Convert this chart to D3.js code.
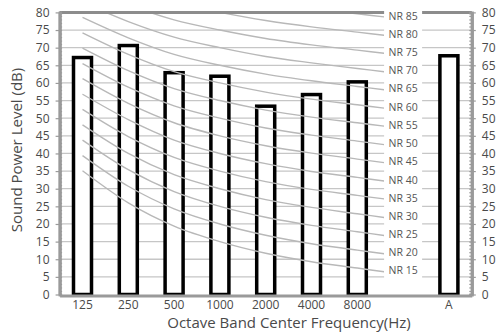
<!DOCTYPE html>
<html>
<head>
<meta charset="utf-8">
<script src="https://cdn.jsdelivr.net/npm/d3@7"></script>
<style>
  body { margin: 0; background: #fff; }
  text { font-family: "Open Sans", sans-serif; }
</style>
</head>
<body>
<div id="chart"></div>
<script>
// Octave bands and measured sound power levels (dB)
var bands = ["125", "250", "500", "1000", "2000", "4000", "8000"];
var bandLevels = [67.2, 70.6, 62.9, 61.9, 53.4, 56.7, 60.3];

// Overall A-weighted level
var totalBand = "A";
var totalLevel = 67.7;

// Y tick values
var yTickValues = [0, 5, 10, 15, 20, 25, 30, 35, 40, 45, 50, 55, 60, 65, 70, 75, 80];

// Noise Rating curves, values at 125 ... 8000 Hz
var nrNames = ["NR 15", "NR 20", "NR 25", "NR 30", "NR 35", "NR 40", "NR 45", "NR 50",
               "NR 55", "NR 60", "NR 65", "NR 70", "NR 75", "NR 80", "NR 85"];
var nr15 = [35.1, 26.0, 19.4, 15.0, 11.7, 9.3, 7.5];
var nr20 = [39.4, 30.7, 24.3, 20.0, 16.8, 14.4, 12.6];
var nr25 = [43.8, 35.4, 29.2, 25.0, 21.9, 19.6, 17.8];
var nr30 = [48.1, 40.0, 34.0, 30.0, 26.9, 24.7, 22.9];
var nr35 = [52.5, 44.8, 38.9, 35.0, 32.0, 29.8, 28.1];
var nr40 = [56.8, 49.6, 43.8, 40.0, 37.1, 34.9, 33.2];
var nr45 = [61.2, 54.2, 48.7, 45.0, 42.2, 40.1, 38.4];
var nr50 = [65.5, 58.8, 53.5, 50.0, 47.2, 45.2, 43.5];
var nr55 = [69.9, 63.5, 58.4, 55.0, 52.3, 50.3, 48.7];
var nr60 = [74.2, 68.1, 63.2, 60.0, 57.4, 55.4, 53.8];
var nr65 = [78.6, 72.8, 68.1, 65.0, 62.5, 60.6, 59.0];
var nr70 = [82.9, 77.4, 73.0, 70.0, 67.5, 65.7, 64.1];
var nr75 = [87.3, 82.1, 77.9, 75.0, 72.6, 70.8, 69.3];
var nr80 = [91.6, 86.7, 82.7, 80.0, 77.7, 75.9, 74.4];
var nr85 = [96.0, 91.4, 87.6, 85.0, 82.8, 81.1, 79.6];
var nrCurves = [nr15, nr20, nr25, nr30, nr35, nr40, nr45, nr50,
                nr55, nr60, nr65, nr70, nr75, nr80, nr85];

// Define svg dimensions
var svgWidth = 496;
var svgHeight = 333;

var chartMargin = { top: 12.4, right: 24.2, bottom: 38.5, left: 59.6 };
var chartWidth = svgWidth - chartMargin.left - chartMargin.right;
var chartHeight = svgHeight - chartMargin.top - chartMargin.bottom;

var svg = d3.select("#chart")
  .append("svg")
  .attr("width", svgWidth)
  .attr("height", svgHeight);

var chartGroup = svg.append("g")
  .attr("transform", `translate(${chartMargin.left}, ${chartMargin.top})`);

// Scales: one empty slot between 8000 and A holds the NR labels
var xDomain = bands.concat(["NR", totalBand]);
var xScale = d3.scaleBand()
  .domain(xDomain)
  .range([0, chartWidth]);
var bw = xScale.bandwidth();

var yScale = d3.scaleLinear()
  .domain([0, 80])
  .range([chartHeight, 0]);

var axisGray = "#9a9a9a";

// Horizontal gridlines
chartGroup.append("g")
  .selectAll("line")
  .data(yTickValues.filter(d => d > 0 && d < 80))
  .enter()
  .append("line")
  .attr("x1", 0)
  .attr("x2", chartWidth)
  .attr("y1", d => yScale(d))
  .attr("y2", d => yScale(d))
  .attr("stroke", "#c6c6c6")
  .attr("stroke-width", 1.3);

// Bars
var barData = bands.map((b, i) => ({ band: b, level: bandLevels[i] }));
barData.push({ band: totalBand, level: totalLevel });
var barW = 18;

chartGroup.append("g")
  .selectAll("rect")
  .data(barData)
  .enter()
  .append("rect")
  .attr("x", d => xScale(d.band) + bw / 2 - barW / 2)
  .attr("y", d => yScale(d.level))
  .attr("width", barW)
  .attr("height", d => chartHeight - yScale(d.level))
  .attr("fill", "#fff")
  .attr("stroke", "#000")
  .attr("stroke-width", 3.5);

// NR curves, clipped to plot area
var labelCenter = xScale("NR") + bw / 2;
var labelHalf = 19;
var curveEndX = labelCenter - labelHalf;

svg.append("defs").append("clipPath")
  .attr("id", "plotClip")
  .append("rect")
  .attr("x", 0)
  .attr("y", 0)
  .attr("width", curveEndX)
  .attr("height", chartHeight);

var lineGen = d3.line()
  .x(d => d[0])
  .y(d => yScale(d[1]))
  .curve(d3.curveMonotoneX);

// Each curve continues along its last slope up to its label
var curvePts = nrCurves.map(function(vals) {
  var pts = vals.map((v, i) => [xScale(bands[i]) + bw / 2, v]);
  var a = pts[pts.length - 2];
  var b = pts[pts.length - 1];
  var slope = (b[1] - a[1]) / (b[0] - a[0]);
  pts.push([curveEndX, b[1] + slope * (curveEndX - b[0])]);
  return pts;
});

chartGroup.append("g")
  .attr("clip-path", "url(#plotClip)")
  .selectAll("path")
  .data(curvePts)
  .enter()
  .append("path")
  .attr("d", d => lineGen(d))
  .attr("fill", "none")
  .attr("stroke", "#b8b8b8")
  .attr("stroke-width", 1.4);

// Top border line at 80
chartGroup.append("line")
  .attr("x1", 0)
  .attr("x2", chartWidth)
  .attr("y1", yScale(80))
  .attr("y2", yScale(80))
  .attr("stroke", "#8c8c8c")
  .attr("stroke-width", 3);

// White column behind NR labels
chartGroup.append("rect")
  .attr("x", labelCenter - labelHalf)
  .attr("y", yScale(80) - 3)
  .attr("width", labelHalf * 2)
  .attr("height", yScale(2.5) - yScale(80) + 3)
  .attr("fill", "#fff");

// NR labels
chartGroup.append("g")
  .selectAll("text")
  .data(curvePts)
  .enter()
  .append("text")
  .attr("x", labelCenter)
  .attr("y", d => Math.max(yScale(d[d.length - 1][1]), 2) - 1)
  .attr("dy", "0.35em")
  .attr("text-anchor", "middle")
  .attr("font-size", "10.5px")
  .attr("fill", "#555")
  .text((d, i) => nrNames[i]);

// Axes
function styleAxis(g) {
  g.select(".domain").attr("stroke", axisGray).attr("stroke-width", 3);
  g.selectAll(".tick line").attr("stroke", axisGray).attr("stroke-width", 1.2);
  g.selectAll(".tick text").attr("fill", "#4a4a4a").attr("font-size", "12px");
}

// minor ticks (inward)
chartGroup.append("g")
  .call(d3.axisLeft(yScale).ticks(80).tickSize(-2.5).tickFormat(""))
  .call(styleAxis);
chartGroup.append("g")
  .attr("transform", `translate(${chartWidth}, 0)`)
  .call(d3.axisRight(yScale).ticks(80).tickSize(-2.5).tickFormat(""))
  .call(styleAxis);

var leftAxis = chartGroup.append("g")
  .call(d3.axisLeft(yScale).tickValues(yTickValues).tickSize(4).tickPadding(6).tickSizeOuter(0))
  .call(styleAxis);

var rightAxis = chartGroup.append("g")
  .attr("transform", `translate(${chartWidth}, 0)`)
  .call(d3.axisRight(yScale).tickValues(yTickValues).tickSize(4).tickPadding(6).tickSizeOuter(0))
  .call(styleAxis);

var bottomAxis = chartGroup.append("g")
  .attr("transform", `translate(0, ${chartHeight + 1})`)
  .call(d3.axisBottom(xScale).tickSize(0).tickPadding(5).tickSizeOuter(0)
    .tickFormat(d => d === "NR" ? "" : d))
  .call(styleAxis);

// Axis titles
svg.append("text")
  .attr("transform", "translate(21.5, 150) rotate(-90)")
  .attr("text-anchor", "middle")
  .attr("font-size", "15px")
  .attr("fill", "#4a4a4a")
  .text("Sound Power Level (dB)");

svg.append("text")
  .attr("x", 289)
  .attr("y", 328)
  .attr("text-anchor", "middle")
  .attr("font-size", "15px")
  .attr("fill", "#4a4a4a")
  .text("Octave Band Center Frequency(Hz)");
</script>
</body>
</html>
